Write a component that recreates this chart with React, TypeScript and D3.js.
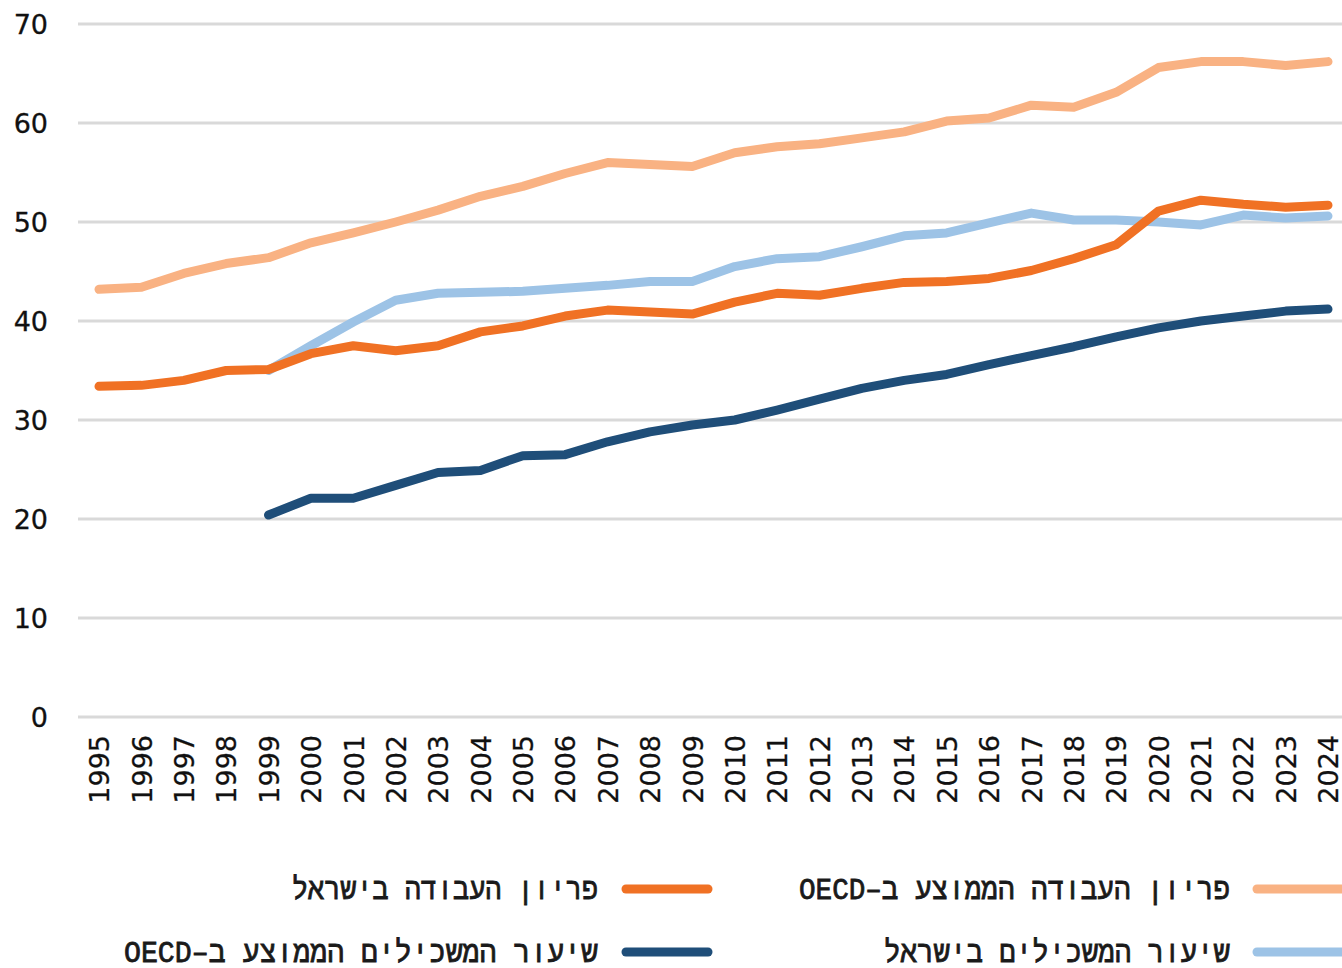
import React from "react";
import * as d3 from "d3";

const years = [
  1995, 1996, 1997, 1998, 1999, 2000, 2001, 2002, 2003, 2004, 2005, 2006, 2007, 2008, 2009,
  2010, 2011, 2012, 2013, 2014, 2015, 2016, 2017, 2018, 2019, 2020, 2021, 2022, 2023, 2024,
];

const yTicks = [0, 10, 20, 30, 40, 50, 60, 70];

// פריון העבודה הממוצע ב-OECD
const oecdProductivity = [
  43.2, 43.4, 44.8, 45.8, 46.4, 47.9, 48.9, 50.0, 51.2, 52.6, 53.6, 54.9, 56.0, 55.8, 55.6,
  57.0, 57.6, 57.9, 58.5, 59.1, 60.2, 60.5, 61.8, 61.6, 63.1, 65.6, 66.2, 66.2, 65.8, 66.2,
];

// פריון העבודה בישראל
const israelProductivity = [
  33.4, 33.5, 34.0, 35.0, 35.1, 36.7, 37.5, 37.0, 37.5, 38.9, 39.5, 40.5, 41.1, 40.9, 40.7,
  41.9, 42.8, 42.6, 43.3, 43.9, 44.0, 44.3, 45.1, 46.3, 47.7, 51.1, 52.2, 51.8, 51.5, 51.7,
];

// שיעור המשכילים בישראל
const israelEducated = [
  null, null, null, null, 35.0, 37.5, 39.9, 42.1, 42.8, 42.9, 43.0, 43.3, 43.6, 44.0, 44.0,
  45.5, 46.3, 46.5, 47.5, 48.6, 48.9, 49.9, 50.9, 50.2, 50.2, 50.0, 49.7, 50.7, 50.4, 50.6,
];

// שיעור המשכילים הממוצע ב-OECD
const oecdEducated = [
  null, null, null, null, 20.4, 22.1, 22.1, 23.4, 24.7, 24.9, 26.4, 26.5, 27.8, 28.8, 29.5,
  30.0, 31.0, 32.1, 33.2, 34.0, 34.6, 35.6, 36.5, 37.4, 38.4, 39.3, 40.0, 40.5, 41.0, 41.2,
];

const seriesNames = [
  "פריון העבודה הממוצע ב–OECD",
  "פריון העבודה בישראל",
  "שיעור המשכילים בישראל",
  "שיעור המשכילים הממוצע ב–OECD",
];

const colors = ["#F9B283", "#F07124", "#9DC3E6", "#1F4E79"];

const W = 1342;
const H = 968;

export default function App() {
  const x = d3.scalePoint<number>().domain(years).range([99, 1328]);
  const y = d3.scaleLinear().domain([0, 70]).range([717, 24]);

  const allSeries = [oecdProductivity, israelProductivity, israelEducated, oecdEducated];
  const drawOrder = [0, 2, 1, 3];

  const line = d3
    .line<number | null>()
    .defined((d) => d !== null)
    .x((_, i) => x(years[i]) as number)
    .y((d) => y(d as number));

  const tickFont = "'DejaVu Sans', Verdana, sans-serif";
  const legendFont = "'Liberation Mono', 'DejaVu Sans Mono', monospace";

  const legend = [
    { s: 0, tx: 1230, len: 431, sx1: 1257, sx2: 1345, y: 889 },
    { s: 1, tx: 598, len: 306, sx1: 626, sx2: 708, y: 889 },
    { s: 2, tx: 1230, len: 346, sx1: 1257, sx2: 1345, y: 952 },
    { s: 3, tx: 598, len: 474, sx1: 626, sx2: 708, y: 952 },
  ];

  return (
    <svg
      width={W}
      height={H}
      viewBox={`0 0 ${W} ${H}`}
      style={{ position: "absolute", left: 0, top: 0, background: "#fff" }}
    >
      <rect x={0} y={0} width={W} height={H} fill="#fff" />
      {yTicks.map((t) => (
        <g key={t}>
          <line x1={78} x2={1342} y1={y(t)} y2={y(t)} stroke="#D9D9D9" strokeWidth={3} />
          <text
            x={48}
            y={y(t)}
            dy="0.36em"
            textAnchor="end"
            fontFamily={tickFont}
            fontSize={27}
            fill="#111"
            stroke="#111"
            strokeWidth={0.3}
          >
            {t}
          </text>
        </g>
      ))}
      {years.map((yr) => (
        <text
          key={yr}
          transform={`translate(${(x(yr) as number) + 0.5},735) rotate(-90)`}
          dy="0.36em"
          textAnchor="end"
          fontFamily={tickFont}
          fontSize={27}
          fill="#111"
          stroke="#111"
          strokeWidth={0.3}
        >
          {yr}
        </text>
      ))}
      {drawOrder.map((si) => (
        <path
          key={si}
          d={line(allSeries[si] as (number | null)[]) || ""}
          fill="none"
          stroke={colors[si]}
          strokeWidth={9}
          strokeLinejoin="round"
          strokeLinecap="round"
        />
      ))}
      {legend.map((l) => (
        <g key={l.s}>
          <line
            x1={l.sx1}
            x2={l.sx2}
            y1={l.y}
            y2={l.y}
            stroke={colors[l.s]}
            strokeWidth={9}
            strokeLinecap="round"
          />
          <text
            x={l.tx}
            y={l.y + 10}
            direction="rtl"
            textAnchor="start"
            fontFamily={legendFont}
            fontSize={30}
            fill="#1a1a1a"
            stroke="#1a1a1a"
            strokeWidth={0.8}
            textLength={l.len}
            lengthAdjust="spacingAndGlyphs"
          >
            {seriesNames[l.s]}
          </text>
        </g>
      ))}
    </svg>
  );
}
